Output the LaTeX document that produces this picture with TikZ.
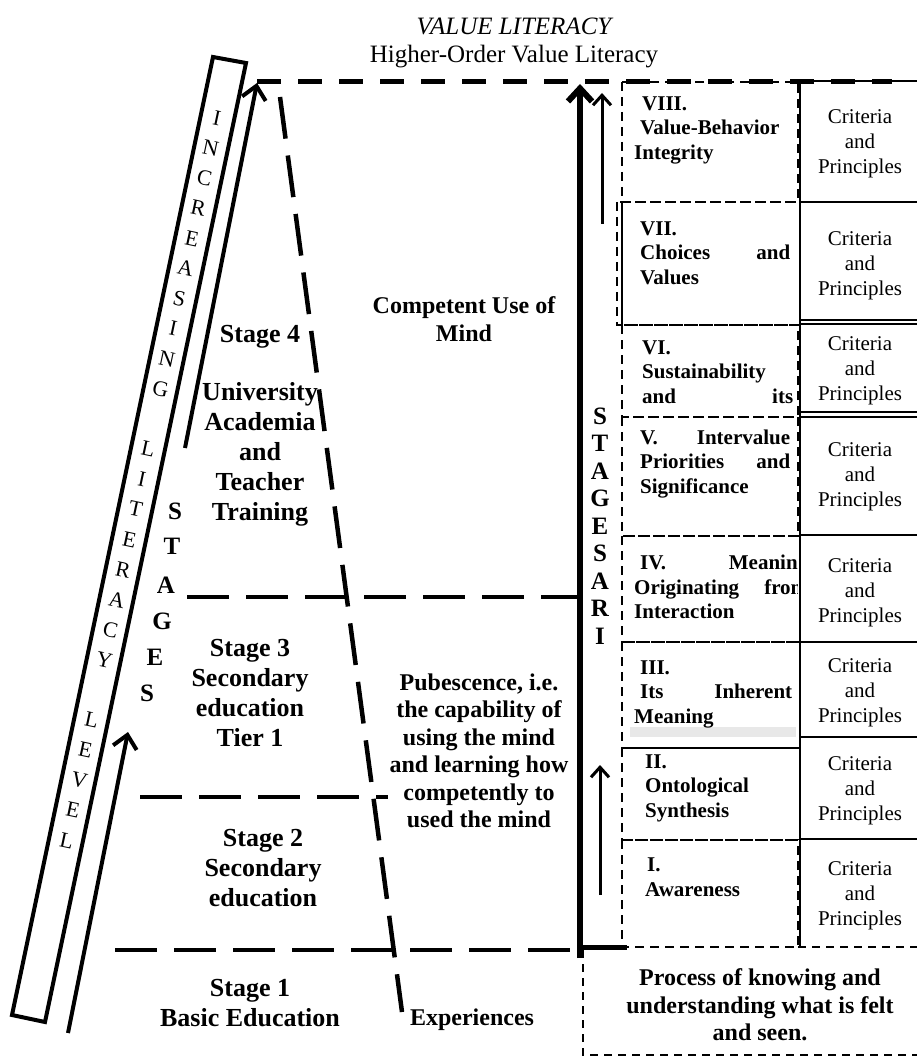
\documentclass[tikz,border=0pt]{standalone}
\usepackage{fontspec}
\setmainfont{Liberation Serif}
\usetikzlibrary{arrows.meta}
\begin{document}
\begin{tikzpicture}[x=1pt,y=-1pt,
  thickdash/.style={line width=4.5pt,dash pattern=on 42pt off 17pt},
  boxdash/.style={line width=2pt,dash pattern=on 9pt off 6pt},
  thinline/.style={line width=1.2pt},
  arr/.style={-{Straight Barb[length=13pt,width=24pt]}},
  smallarr/.style={line width=3pt,-{Straight Barb[length=10pt,width=18pt]}},
  stagetxt/.style={font=\bfseries\fontsize{26}{30}\selectfont,align=center,inner sep=0pt},
  midtxt/.style={font=\bfseries\fontsize{24}{27.5}\selectfont,align=center,inner sep=0pt},
  valtxt/.style={font=\bfseries\fontsize{21}{24.5}\selectfont,align=left,anchor=west,inner sep=0pt},
  crittxt/.style={font=\fontsize{21}{25}\selectfont,align=center,inner sep=0pt},
  sideletter/.style={font=\fontsize{22}{22}\selectfont,rotate=-12,inner sep=0pt},
  boldletter/.style={font=\bfseries\fontsize{25}{25}\selectfont,inner sep=0pt},
]
\useasboundingbox (0,0) rectangle (917,1059);

% title
\node[font=\itshape\fontsize{25}{30}\selectfont,inner sep=0pt] (t1) at (514,26) {VALUE LITERACY};
\node[font=\fontsize{25}{30}\selectfont,inner sep=0pt] (t2) at (514,57) {Higher-Order Value Literacy};

% tilted box
\coordinate (bTL) at (213,57);
\coordinate (bTR) at (246,63);
\coordinate (bBR) at (45,1022);
\coordinate (bBL) at (12,1015);
\draw[line width=4pt,line join=miter] (bTL)--(bTR)--(bBR)--(bBL)--cycle;
\foreach \ch [count=\k from 0] in {I,N,C,R,E,A,S,I,N,G,{},L,I,T,E,R,A,C,Y,{},L,E,V,E,L}
  \node[sideletter] (inc\k) at ({217-6.26*\k},{118+30.1*\k}) {\ch};

% left arrows
\coordinate (a1s) at (68,1033);
\coordinate (a1e) at (128,732);
\coordinate (a2s) at (185,448);
\coordinate (a2e) at (257,83);
\draw[line width=4pt,arr] (a1s)--(a1e);
\draw[line width=4pt,arr] (a2s)--(a2e);

% STAGES letters
\node[boldletter] (s1) at (175,511) {S};
\node[boldletter] (s2) at (172,546) {T};
\node[boldletter] (s3) at (166,585) {A};
\node[boldletter] (s4) at (162,621) {G};
\node[boldletter] (s5) at (155,657) {E};
\node[boldletter] (s6) at (147,693) {S};

% dashed lines
\coordinate (topL) at (257,82);
\coordinate (topR) at (892,82);
\draw[line width=5pt,dash pattern=on 24pt off 17pt] (topL)--(topR);
\coordinate (trT) at (280,97);
\coordinate (trB) at (402,1012);
\draw[thickdash] (trT)--(trB);
\coordinate (h3L) at (187,597);
\coordinate (h3R) at (580,597);
\draw[thickdash] (h3L)--(h3R);
\coordinate (h2L) at (140,797);
\coordinate (h2R) at (388,797);
\draw[thickdash] (h2L)--(h2R);
\coordinate (h1L) at (115,950);
\coordinate (h1R) at (580,950);
\draw[thickdash] (h1L)--(h1R);

% big arrow and small arrows
\coordinate (bigS) at (580,958);
\coordinate (bigE) at (580,84);
\draw[line width=6pt,arr] (bigS)--(bigE);
\coordinate (footL) at (578,947);
\coordinate (footR) at (627,947);
\draw[line width=5pt] (footL)--(footR);
\coordinate (sa1s) at (602,224);
\coordinate (sa1e) at (602,93);
\draw[smallarr] (sa1s)--(sa1e);
\coordinate (sa2s) at (600,895);
\coordinate (sa2e) at (600,765);
\draw[smallarr] (sa2s)--(sa2e);

% STAGESARI
\foreach \ch [count=\k from 0] in {S,T,A,G,E,S,A,R,I}
  \node[boldletter] (sa\k) at (600,{416+27.5*\k}) {\ch};

% criteria column lines
\draw[thinline] (798,81)--(917,81);
\draw[thinline] (800,202)--(917,202);
\draw[thinline] (800,320)--(917,320);
\draw[thinline] (800,324)--(917,324);
\draw[thinline] (799,412)--(917,412);
\draw[thinline] (799,417)--(917,417);
\draw[thinline] (799,535)--(917,535);
\draw[thinline] (801,642)--(917,642);
\draw[thinline] (801,737)--(917,737);
\draw[thinline] (801,839)--(917,839);
\draw[thinline] (800,82)--(800,947);
\draw[thinline] (622,202)--(622,325);

% gray bar
\fill[gray!18] (630,727) rectangle (796,737);

% dashed value boxes
\draw[boxdash] (622,82) rectangle (798,202);
\draw[boxdash] (617,202) rectangle (800,325);
\draw[boxdash] (622,325) rectangle (798,417);
\draw[boxdash] (622,417) rectangle (798,536);
\draw[boxdash] (622,536) rectangle (800,642);
\draw[boxdash] (622,642) rectangle (800,748);
\draw[boxdash] (622,748) rectangle (800,840);
\draw[boxdash] (622,840) rectangle (798,947);
\draw[line width=1.5pt,dash pattern=on 8pt off 6pt] (798,947)--(920,947);

% bottom process box
\draw[line width=1.5pt,dash pattern=on 8pt off 6pt] (583,950)--(583,1055)--(920,1055);
\node[midtxt] (proc) at (760,1005) {Process of knowing and\\understanding what is felt\\and seen.};

% value box texts
\node[valtxt,text width=160pt] (v8) at (634,130) {\hspace*{8pt}VIII.\\\hspace*{6pt}Value-Behavior\\Integrity};
\node[valtxt,text width=150pt] (v7) at (640,253) {VII.\\Choices\hfill and\\Values};
\node[valtxt,text width=151pt] (v6) at (642,372) {VI.\\Sustainability\\and\hfill its};
\node[valtxt,text width=150pt] (v5) at (640,464) {V.\hfill Intervalue\\Priorities\hfill and\\Significance};
\begin{scope}
\clip (620,536) rectangle (797,642);
\node[valtxt,text width=174pt] (v4) at (634,587) {\hspace*{6pt}IV.\hfill Meaning\\Originating\hfill from\\Interaction};
\end{scope}
\node[valtxt,text width=158pt] (v3) at (634,694) {\hspace*{6pt}III.\\\hspace*{6pt}Its\hfill Inherent\\Meaning};
\node[valtxt,text width=150pt] (v2) at (645,788) {II.\\Ontological\\Synthesis};
\node[valtxt,text width=150pt] (v1) at (645,877) {\hspace*{2pt}I.\\Awareness};

% criteria texts
\foreach \yy [count=\k] in {144,266,371,477,593,693,791,896}
  \node[crittxt] (c\k) at (860,\yy) {Criteria\\and\\Principles};

% left texts
\node[stagetxt] (st4) at (260,337) {Stage 4};
\node[stagetxt] (univ) at (260,454) {University\\Academia\\and\\Teacher\\Training};
\node[stagetxt] (st3) at (250,693) {Stage 3\\Secondary\\education\\Tier 1};
\node[stagetxt] (st2) at (263,868) {Stage 2\\Secondary\\education};
\node[stagetxt] (st1) at (250,1003) {Stage 1\\Basic Education};
\node[midtxt] (comp) at (464,319) {Competent Use of\\Mind};
\node[midtxt] (pub) at (479,751) {Pubescence, i.e.\\the capability of\\using the mind\\and learning how\\competently to\\used the mind};
\node[midtxt] (exp) at (472,1020) {Experiences};
\end{tikzpicture}
\end{document}
